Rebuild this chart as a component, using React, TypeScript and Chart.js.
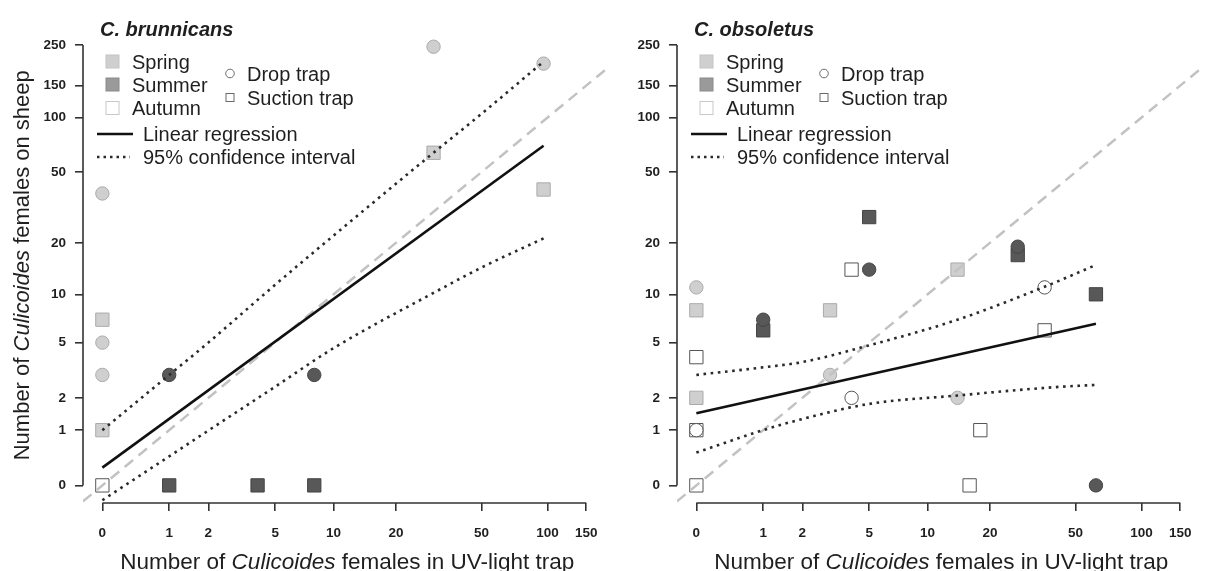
import React, { useEffect, useRef } from "react";
import { Chart, registerables } from "chart.js";

Chart.register(...registerables);

// ---------- data ----------
const X_TICKS = [0, 1, 2, 5, 10, 20, 50, 100, 150];
const Y_TICKS = [0, 1, 2, 5, 10, 20, 50, 100, 150, 250];

const SEASONS = ["Spring", "Summer", "Autumn"];
const TRAPS = ["Drop trap", "Suction trap"];
const LINE_LABELS = ["Linear regression", "95% confidence interval"];
const X_TITLE = ["Number of ", "Culicoides", " females in UV-light trap"];
const Y_TITLE = ["Number of ", "Culicoides", " females on sheep"];

// C. brunnicans
const BRU_SPRING_DROP_X = [0, 0, 0, 30, 96];
const BRU_SPRING_DROP_Y = [38, 5, 3, 245, 198];
const BRU_SPRING_SUCTION_X = [0, 0, 30, 96];
const BRU_SPRING_SUCTION_Y = [7, 1, 64, 40];
const BRU_SUMMER_DROP_X = [1, 8];
const BRU_SUMMER_DROP_Y = [3, 3];
const BRU_SUMMER_SUCTION_X = [1, 4, 8];
const BRU_SUMMER_SUCTION_Y = [0, 0, 0];
const BRU_AUTUMN_DROP_X: number[] = [];
const BRU_AUTUMN_DROP_Y: number[] = [];
const BRU_AUTUMN_SUCTION_X = [0];
const BRU_AUTUMN_SUCTION_Y = [0];
const BRU_FIT_X = [0, 96];
const BRU_FIT_Y = [0.25, 70];
const BRU_UPPER_X = [0, 1, 2, 5, 10, 30, 50, 96];
const BRU_UPPER_Y = [1.0, 3.0, 5.0, 11.4, 22, 64, 105, 203];
const BRU_LOWER_X = [0, 1, 2, 5, 10, 30, 50, 96];
const BRU_LOWER_Y = [-0.17, 0.44, 0.99, 2.45, 4.6, 10.2, 14.4, 21.2];

// C. obsoletus
const OBS_SPRING_DROP_X = [0, 3, 14];
const OBS_SPRING_DROP_Y = [11, 3, 2];
const OBS_SPRING_SUCTION_X = [0, 0, 3, 14];
const OBS_SPRING_SUCTION_Y = [8, 2, 8, 14];
const OBS_SUMMER_DROP_X = [1, 5, 27, 62];
const OBS_SUMMER_DROP_Y = [7, 14, 19, 0];
const OBS_SUMMER_SUCTION_X = [1, 5, 27, 62];
const OBS_SUMMER_SUCTION_Y = [6, 28, 17, 10];
const OBS_AUTUMN_DROP_X = [0, 4, 36];
const OBS_AUTUMN_DROP_Y = [1, 2, 11];
const OBS_AUTUMN_SUCTION_X = [0, 0, 0, 4, 18, 16, 36];
const OBS_AUTUMN_SUCTION_Y = [4, 1, 0, 14, 1, 0, 6];
const OBS_FIT_X = [0, 62];
const OBS_FIT_Y = [1.47, 6.6];
const OBS_UPPER_X = [0, 1, 2, 5, 14, 36, 62];
const OBS_UPPER_Y = [3.0, 3.4, 3.7, 4.8, 7.0, 11.1, 14.9];
const OBS_LOWER_X = [0, 1, 2, 5, 14, 40, 62];
const OBS_LOWER_Y = [0.51, 1.0, 1.3, 1.78, 2.09, 2.43, 2.53];

// ---------- styling ----------
const FONT = '"Liberation Sans", Arial, Helvetica, sans-serif';
const TEXT = "#1f1f1f";
const AXIS = "#333333";
const W = 616;
const H = 571;

const SPRING_FILL = "#cfcfcf";
const SPRING_EDGE = "#ababab";
const SUMMER_FILL = "#585858";
const SUMMER_EDGE = "#444444";
const AUTUMN_FILL = "#ffffff";
const AUTUMN_EDGE = "#555555";

const tr = (v: number) => Math.log10(v + 1);
const pad4 = (a: number, b: number) => 0.04 * (b - a);
const X_LO = tr(X_TICKS[0]) - pad4(tr(X_TICKS[0]), tr(X_TICKS[X_TICKS.length - 1]));
const X_HI = tr(X_TICKS[X_TICKS.length - 1]) + pad4(tr(X_TICKS[0]), tr(X_TICKS[X_TICKS.length - 1]));
const Y_LO = tr(Y_TICKS[0]) - pad4(tr(Y_TICKS[0]), tr(Y_TICKS[Y_TICKS.length - 1]));
const Y_HI = tr(Y_TICKS[Y_TICKS.length - 1]) + pad4(tr(Y_TICKS[0]), tr(Y_TICKS[Y_TICKS.length - 1]));

const pts = (xs: number[], ys: number[]) => xs.map((x, i) => ({ x: tr(x), y: tr(ys[i]) }));

type Panel = {
  title: string;
  yTitle: boolean;
  springDrop: [number[], number[]];
  springSuction: [number[], number[]];
  summerDrop: [number[], number[]];
  summerSuction: [number[], number[]];
  autumnDrop: [number[], number[]];
  autumnSuction: [number[], number[]];
  fit: [number[], number[]];
  upper: [number[], number[]];
  lower: [number[], number[]];
};

const BRU: Panel = {
  title: "C. brunnicans",
  yTitle: true,
  springDrop: [BRU_SPRING_DROP_X, BRU_SPRING_DROP_Y],
  springSuction: [BRU_SPRING_SUCTION_X, BRU_SPRING_SUCTION_Y],
  summerDrop: [BRU_SUMMER_DROP_X, BRU_SUMMER_DROP_Y],
  summerSuction: [BRU_SUMMER_SUCTION_X, BRU_SUMMER_SUCTION_Y],
  autumnDrop: [BRU_AUTUMN_DROP_X, BRU_AUTUMN_DROP_Y],
  autumnSuction: [BRU_AUTUMN_SUCTION_X, BRU_AUTUMN_SUCTION_Y],
  fit: [BRU_FIT_X, BRU_FIT_Y],
  upper: [BRU_UPPER_X, BRU_UPPER_Y],
  lower: [BRU_LOWER_X, BRU_LOWER_Y],
};

const OBS: Panel = {
  title: "C. obsoletus",
  yTitle: false,
  springDrop: [OBS_SPRING_DROP_X, OBS_SPRING_DROP_Y],
  springSuction: [OBS_SPRING_SUCTION_X, OBS_SPRING_SUCTION_Y],
  summerDrop: [OBS_SUMMER_DROP_X, OBS_SUMMER_DROP_Y],
  summerSuction: [OBS_SUMMER_SUCTION_X, OBS_SUMMER_SUCTION_Y],
  autumnDrop: [OBS_AUTUMN_DROP_X, OBS_AUTUMN_DROP_Y],
  autumnSuction: [OBS_AUTUMN_SUCTION_X, OBS_AUTUMN_SUCTION_Y],
  fit: [OBS_FIT_X, OBS_FIT_Y],
  upper: [OBS_UPPER_X, OBS_UPPER_Y],
  lower: [OBS_LOWER_X, OBS_LOWER_Y],
};

// ---------- decorations (axes lines, legend, titles) ----------
function drawMixed(ctx: CanvasRenderingContext2D, parts: string[], size: number, cx: number, base: number) {
  const fonts = parts.map((_, i) => (i === 1 ? `italic ${size}px ${FONT}` : `${size}px ${FONT}`));
  const widths = parts.map((t, i) => {
    ctx.font = fonts[i];
    return ctx.measureText(t).width;
  });
  const total = widths.reduce((a, b) => a + b, 0);
  let x = cx - total / 2;
  ctx.textAlign = "left";
  ctx.textBaseline = "alphabetic";
  parts.forEach((t, i) => {
    ctx.font = fonts[i];
    ctx.fillText(t, x, base);
    x += widths[i];
  });
}

function makeDecor(p: Panel) {
  return {
    id: "decor",
    afterDraw(chart: any) {
      const ctx: CanvasRenderingContext2D = chart.ctx;
      const xs = chart.scales.x;
      const ys = chart.scales.y;
      const ca = chart.chartArea;
      ctx.save();
      // axis lines (R style: from first to last tick)
      ctx.strokeStyle = AXIS;
      ctx.lineWidth = 1.6;
      ctx.beginPath();
      ctx.moveTo(xs.getPixelForValue(tr(X_TICKS[0])), ca.bottom);
      ctx.lineTo(xs.getPixelForValue(tr(X_TICKS[X_TICKS.length - 1])), ca.bottom);
      ctx.moveTo(ca.left, ys.getPixelForValue(tr(Y_TICKS[0])));
      ctx.lineTo(ca.left, ys.getPixelForValue(tr(Y_TICKS[Y_TICKS.length - 1])));
      ctx.stroke();

      ctx.fillStyle = TEXT;
      // panel title
      ctx.font = `italic bold 20px ${FONT}`;
      ctx.textAlign = "left";
      ctx.textBaseline = "alphabetic";
      ctx.fillText(p.title, 100, 35.5);

      // season legend
      const seasonFill = [SPRING_FILL, "#9a9a9a", "#ffffff"];
      const seasonEdge = ["#c4c4c4", "#8a8a8a", "#c8c8c8"];
      const rows = [61.5, 84.5, 108];
      SEASONS.forEach((s, i) => {
        ctx.fillStyle = seasonFill[i];
        ctx.strokeStyle = seasonEdge[i];
        ctx.lineWidth = 1;
        ctx.fillRect(106, rows[i] - 6.5, 13, 13);
        ctx.strokeRect(106, rows[i] - 6.5, 13, 13);
        ctx.fillStyle = TEXT;
        ctx.font = `20px ${FONT}`;
        ctx.fillText(s, 132, rows[i] + 7.2);
      });
      // trap legend
      const trows = [73.5, 97.5];
      ctx.strokeStyle = "#6a6a6a";
      ctx.lineWidth = 1;
      ctx.beginPath();
      ctx.arc(230, trows[0], 4.3, 0, Math.PI * 2);
      ctx.stroke();
      ctx.strokeRect(226, trows[1] - 4, 8, 8);
      TRAPS.forEach((t, i) => {
        ctx.fillStyle = TEXT;
        ctx.font = `20px ${FONT}`;
        ctx.fillText(t, 247, trows[i] + 7.2);
      });
      // line legend
      const lrows = [134, 157];
      ctx.strokeStyle = "#111";
      ctx.lineWidth = 2.5;
      ctx.setLineDash([]);
      ctx.beginPath();
      ctx.moveTo(97, lrows[0]);
      ctx.lineTo(133, lrows[0]);
      ctx.stroke();
      ctx.strokeStyle = "#2a2a2a";
      ctx.lineWidth = 2.4;
      ctx.setLineDash([2.5, 4]);
      ctx.beginPath();
      ctx.moveTo(97, lrows[1]);
      ctx.lineTo(130, lrows[1]);
      ctx.stroke();
      ctx.setLineDash([]);
      LINE_LABELS.forEach((t, i) => {
        ctx.fillStyle = TEXT;
        ctx.font = `20px ${FONT}`;
        ctx.fillText(t, 143, lrows[i] + 7.2);
      });

      // axis titles
      ctx.fillStyle = TEXT;
      drawMixed(ctx, X_TITLE, 22.5, (ca.left + ca.right) / 2 + 3, 569);
      if (p.yTitle) {
        ctx.save();
        ctx.translate(28.5, (ca.top + ca.bottom) / 2);
        ctx.rotate(-Math.PI / 2);
        drawMixed(ctx, Y_TITLE, 22, 0, 0);
        ctx.restore();
      }
      ctx.restore();
    },
  };
}

function buildConfig(p: Panel): any {
  const pointSet = (d: [number[], number[]], style: string, fill: string, edge: string) => ({
    data: pts(d[0], d[1]),
    showLine: false,
    pointStyle: style,
    pointRadius: style === "rect" ? 9.4 : 6.7,
    pointBackgroundColor: fill,
    pointBorderColor: edge,
    pointBorderWidth: 1,
    order: 3,
  });
  const lineSet = (data: any[], color: string, width: number, dash: number[], order: number, smooth = false) => ({
    data,
    showLine: true,
    borderColor: color,
    borderWidth: width,
    borderDash: dash,
    borderCapStyle: "butt",
    pointRadius: 0,
    fill: false,
    tension: 0,
    cubicInterpolationMode: smooth ? "monotone" : "default",
    order,
  });
  return {
    type: "scatter",
    data: {
      datasets: [
        lineSet(pts(p.fit[0], p.fit[1]), "#111111", 2.6, [], 0),
        lineSet(pts(p.upper[0], p.upper[1]), "#2a2a2a", 2.6, [2.6, 4.6], 1, true),
        lineSet(pts(p.lower[0], p.lower[1]), "#2a2a2a", 2.6, [2.6, 4.6], 1, true),
        lineSet(
          [
            { x: X_LO, y: X_LO },
            { x: X_HI, y: X_HI },
          ],
          "#c2c2c2",
          2.5,
          [11, 7],
          2
        ),
        pointSet(p.springDrop, "circle", SPRING_FILL, SPRING_EDGE),
        pointSet(p.springSuction, "rect", SPRING_FILL, SPRING_EDGE),
        pointSet(p.summerDrop, "circle", SUMMER_FILL, SUMMER_EDGE),
        pointSet(p.summerSuction, "rect", SUMMER_FILL, SUMMER_EDGE),
        pointSet(p.autumnDrop, "circle", AUTUMN_FILL, AUTUMN_EDGE),
        pointSet(p.autumnSuction, "rect", AUTUMN_FILL, AUTUMN_EDGE),
      ],
    },
    options: {
      responsive: false,
      maintainAspectRatio: false,
      animation: false,
      events: [],
      layout: { padding: { top: 27.5, right: 2.3, bottom: 0, left: 0 } },
      plugins: { legend: { display: false }, tooltip: { enabled: false }, title: { display: false } },
      scales: {
        x: {
          type: "linear",
          min: X_LO,
          max: X_HI,
          grid: { display: true, drawOnChartArea: false, drawTicks: true, tickLength: 8, color: AXIS, lineWidth: 1.6 },
          border: { display: false },
          ticks: {
            autoSkip: false,
            maxRotation: 0,
            padding: 14,
            color: TEXT,
            font: { family: FONT, size: 13.5, weight: "bold" },
            callback: (_v: any, i: number) => String(X_TICKS[i]),
          },
          afterBuildTicks: (s: any) => {
            s.ticks = X_TICKS.map((v) => ({ value: tr(v) }));
          },
          afterFit: (s: any) => {
            s.height = 68;
          },
        },
        y: {
          type: "linear",
          min: Y_LO,
          max: Y_HI,
          grid: { display: true, drawOnChartArea: false, drawTicks: true, tickLength: 8, color: AXIS, lineWidth: 1.6 },
          border: { display: false },
          ticks: {
            autoSkip: false,
            padding: 9,
            color: TEXT,
            font: { family: FONT, size: 13.5, weight: "bold" },
            callback: (_v: any, i: number) => String(Y_TICKS[i]),
          },
          afterBuildTicks: (s: any) => {
            s.ticks = Y_TICKS.map((v) => ({ value: tr(v) }));
          },
          afterFit: (s: any) => {
            s.width = 83;
          },
        },
      },
    },
    plugins: [makeDecor(p)],
  };
}

function PanelChart({ panel, left }: { panel: Panel; left: number }) {
  const ref = useRef<HTMLCanvasElement | null>(null);
  useEffect(() => {
    if (!ref.current) return;
    const chart = new Chart(ref.current, buildConfig(panel));
    return () => chart.destroy();
  }, [panel]);
  return (
    <canvas
      ref={ref}
      width={W}
      height={H}
      style={{ position: "absolute", left, top: 0, width: W, height: H }}
    />
  );
}

export default function App() {
  return (
    <div style={{ position: "absolute", left: 0, top: 0, width: 1210, height: 571, background: "#ffffff", overflow: "hidden" }}>
      <PanelChart panel={BRU} left={0} />
      <PanelChart panel={OBS} left={594} />
    </div>
  );
}
